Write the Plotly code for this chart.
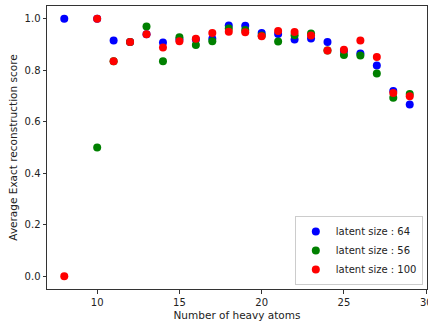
import plotly.graph_objects as go

atoms_64 = [8, 10, 11, 12, 13, 14, 15, 16, 17, 18, 19, 20, 21, 22, 23, 24, 25, 26, 27, 28, 29]
score_64 = [1.0, 1.0, 0.916, 0.91, 0.94, 0.908, 0.92, 0.92, 0.923, 0.974, 0.973, 0.945, 0.941, 0.920, 0.924, 0.910, 0.875, 0.865, 0.819, 0.720, 0.667]

atoms_56 = [10, 11, 12, 13, 14, 15, 16, 17, 18, 19, 20, 21, 22, 23, 24, 25, 26, 27, 28, 29]
score_56 = [0.5, 0.835, 0.91, 0.970, 0.835, 0.929, 0.898, 0.913, 0.963, 0.957, 0.935, 0.912, 0.936, 0.943, 0.877, 0.860, 0.858, 0.788, 0.693, 0.708]

atoms_100 = [8, 10, 11, 12, 13, 14, 15, 16, 17, 18, 19, 20, 21, 22, 23, 24, 25, 26, 27, 28, 29]
score_100 = [0.0, 1.0, 0.835, 0.91, 0.94, 0.889, 0.913, 0.923, 0.945, 0.950, 0.948, 0.932, 0.953, 0.949, 0.935, 0.877, 0.880, 0.916, 0.852, 0.712, 0.699]

x_ticks = [10, 15, 20, 25, 30]
y_ticks = [0.0, 0.2, 0.4, 0.6, 0.8, 1.0]

series = [
    ("latent size : 64", atoms_64, score_64, "#0000ff"),
    ("latent size : 56", atoms_56, score_56, "#008000"),
    ("latent size : 100", atoms_100, score_100, "#ff0000"),
]

fig = go.Figure()
for name, xs, ys, col in series:
    fig.add_trace(go.Scatter(x=xs, y=ys, mode="markers", name=name,
                             marker=dict(color=col, size=8, line=dict(width=0))))

axis_common = dict(showline=True, linecolor="#333333", linewidth=1, mirror=True,
                   ticks="outside", ticklen=3.5, tickcolor="#333333", tickwidth=1,
                   showgrid=False, zeroline=False, automargin=False,
                   tickfont=dict(family="DejaVu Sans", size=10, color="#222222"))

fig.update_layout(
    width=428, height=322,
    margin=dict(l=47, r=1, t=6, b=33),
    paper_bgcolor="white", plot_bgcolor="white",
    font=dict(family="DejaVu Sans", size=10, color="#222222"),
    xaxis=dict(range=[6.95, 30.05], tickvals=x_ticks, ticktext=[str(v) for v in x_ticks],
               title=dict(text="Number of heavy atoms", font=dict(size=10.5), standoff=5),
               **axis_common),
    yaxis=dict(range=[-0.05, 1.05], tickvals=y_ticks, ticktext=[f"{v:.1f}" for v in y_ticks],
               title=dict(text="Average Exact reconstruction score", font=dict(size=10.5), standoff=4),
               **axis_common),
    legend=dict(x=0.989, y=0.014, xanchor="right", yanchor="bottom",
                bordercolor="#cccccc", borderwidth=1, bgcolor="rgba(255,255,255,0.8)",
                font=dict(size=10), tracegroupgap=0, itemwidth=30),
    showlegend=True,
)

# last tick label sits at the figure edge (partly cut, as in the reference)
fig.add_annotation(x=x_ticks[-1], xref="x", y=0, yref="paper", yshift=-6,
                   text=str(x_ticks[-1]), showarrow=False, yanchor="top",
                   font=dict(family="DejaVu Sans", size=10, color="#222222"))

fig.write_html("out.html", config={"displayModeBar": False},
               post_script="document.body.style.margin='0';document.body.style.overflow='hidden';")
